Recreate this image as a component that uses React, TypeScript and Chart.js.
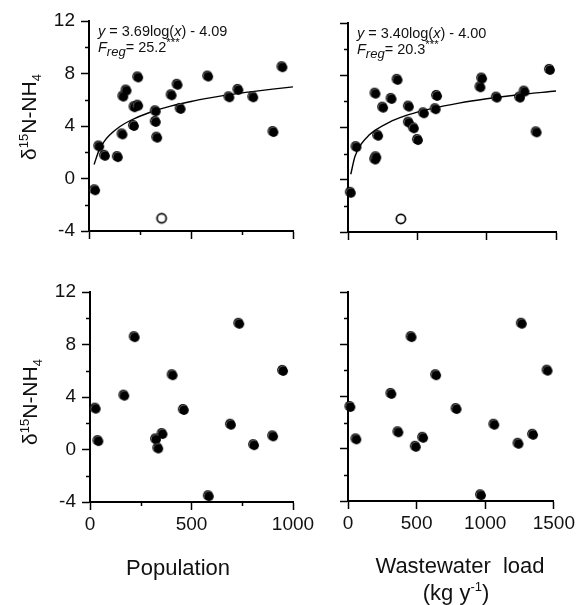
import React, { useEffect, useRef } from 'react';
import { Chart, registerables } from 'chart.js';
Chart.register(...registerables);

// ---------------- data ----------------
// top-left: population vs d15N-NH4 (filled), outlier (open), log fit
const popX = [30, 50, 78, 141, 164, 168, 184, 220, 223, 241, 241, 327, 327, 334, 405, 434, 449, 584, 688, 732, 805, 904, 948];
const popY = [-0.9, 2.44, 1.73, 1.63, 3.36, 6.24, 6.7, 4.0, 5.43, 5.55, 7.7, 5.12, 4.31, 3.11, 6.34, 7.14, 5.3, 7.77, 6.19, 6.75, 6.19, 3.54, 8.48];
const popOutX = [356];
const popOutY = [-3.03];
const popFitX = [25, 50, 75, 100, 150, 200, 300, 400, 500, 600, 700, 800, 900, 1000];
const popFitY = [1.07, 2.18, 2.83, 3.29, 3.94, 4.4, 5.05, 5.51, 5.87, 6.16, 6.41, 6.62, 6.81, 6.98];

// top-right: wastewater load vs d15N-NH4
const wwX = [20, 61, 196, 204, 198, 217, 253, 314, 357, 439, 439, 475, 504, 547, 632, 642, 955, 967, 1073, 1240, 1273, 1360, 1456];
const wwY = [-1.0, 2.5, 1.55, 1.72, 6.59, 3.37, 5.52, 6.19, 7.65, 5.6, 4.37, 3.94, 3.04, 5.09, 5.4, 6.42, 7.08, 7.75, 6.29, 6.29, 6.75, 3.63, 8.41];
const wwOutX = [381];
const wwOutY = [-3.0];
const wwFitX = [20, 50, 100, 150, 200, 300, 400, 500, 600, 800, 1000, 1200, 1500];
const wwFitY = [0.42, 1.78, 2.8, 3.4, 3.82, 4.42, 4.85, 5.18, 5.45, 5.87, 6.2, 6.47, 6.8];

// bottom-left: population (second set)
const pop2X = [28, 41, 169, 220, 325, 336, 357, 407, 462, 585, 694, 735, 808, 902, 951];
const pop2Y = [3.11, 0.64, 4.1, 8.56, 0.77, 0.08, 1.18, 5.66, 3.01, -3.56, 1.89, 9.58, 0.33, 1.0, 5.99];

// bottom-right: wastewater load (second set)
const ww2X = [17, 61, 316, 463, 367, 494, 547, 642, 791, 969, 1066, 1266, 1242, 1348, 1454];
const ww2Y = [3.2, 0.72, 4.2, 8.55, 1.26, 0.15, 0.84, 5.63, 3.04, -3.56, 1.84, 9.57, 0.38, 1.07, 5.98];

// ticks
const yTicks = [-4, 0, 4, 8, 12];
const yMinor = [-2, 2, 6, 10];
const popTicks = [0, 500, 1000];
const popMinor = [250, 750];
const wwTicks = [0, 500, 1000, 1500];
const wwMinor: number[] = [];

// texts
const eqPop = { a: '3.69', b: '4.09', f: '25.2' };
const eqWw = { a: '3.40', b: '4.00', f: '20.3' };
const xTitlePop = 'Population';
const xTitleWw1 = 'Wastewater  load';
const xTitleWw2 = '(kg y';

// ---------------- layout / style ----------------
const W = 578;
const H = 605;
const FONT = '"Liberation Sans", Arial, Helvetica, sans-serif';
const INK = '#111';
const AXW = 40; // fixed y-axis width
const AXH = 40; // fixed x-axis height

type Area = { left: number; top: number; right: number; bottom: number };

function makeDot(filled: boolean): HTMLCanvasElement {
  const c = document.createElement('canvas');
  c.width = 14;
  c.height = 14;
  const g = c.getContext('2d')!;
  if (filled) {
    g.fillStyle = '#000';
    g.beginPath();
    g.arc(6.2, 6.2, 5.1, 0, Math.PI * 2);
    g.fill();
    g.strokeStyle = 'rgba(235,235,235,0.9)';
    g.lineWidth = 0.7;
    g.beginPath();
    g.arc(7.2, 7.2, 5, Math.PI * 0.9, Math.PI * 1.6);
    g.stroke();
    g.fillStyle = '#000';
    g.beginPath();
    g.arc(7.2, 7.2, 4.7, 0, Math.PI * 2);
    g.fill();
  } else {
    g.fillStyle = '#fff';
    g.strokeStyle = '#000';
    g.lineWidth = 1.7;
    g.beginPath();
    g.arc(7, 7, 4.6, 0, Math.PI * 2);
    g.fill();
    g.stroke();
  }
  return c;
}

type Run = { t: string; font: string; dy?: number };
function drawRuns(ctx: CanvasRenderingContext2D, runs: Run[], x: number, y: number, center: boolean) {
  let total = 0;
  runs.forEach((r) => {
    ctx.font = r.font;
    total += ctx.measureText(r.t).width;
  });
  let cx = center ? x - total / 2 : x;
  runs.forEach((r) => {
    ctx.font = r.font;
    ctx.fillText(r.t, cx, y + (r.dy || 0));
    cx += ctx.measureText(r.t).width;
  });
}

const f = (size: number, italic = false) => `${italic ? 'italic ' : ''}${size}px ${FONT}`;

type PanelCfg = {
  area: Area;
  xMax: number;
  xTicks: number[];
  xMinor: number[];
  showX: boolean;
  showY: boolean;
  px: number[];
  py: number[];
  ox?: number[];
  oy?: number[];
  fx?: number[];
  fy?: number[];
  eq?: { a: string; b: string; f: string };
  yTitleDy?: number;
  xTitle?: 'pop' | 'ww';
};

const panels: PanelCfg[] = [
  { area: { left: 89, top: 21, right: 293, bottom: 231 }, xMax: 1000, xTicks: popTicks, xMinor: popMinor, showX: false, showY: true, px: popX, py: popY, ox: popOutX, oy: popOutY, fx: popFitX, fy: popFitY, eq: eqPop, yTitleDy: -9 },
  { area: { left: 348, top: 23, right: 556, bottom: 232 }, xMax: 1500, xTicks: wwTicks, xMinor: wwMinor, showX: false, showY: false, px: wwX, py: wwY, ox: wwOutX, oy: wwOutY, fx: wwFitX, fy: wwFitY, eq: eqWw },
  { area: { left: 90, top: 292, right: 293, bottom: 502 }, xMax: 1000, xTicks: popTicks, xMinor: popMinor, showX: true, showY: true, px: pop2X, py: pop2Y, yTitleDy: 5, xTitle: 'pop' },
  { area: { left: 348, top: 292, right: 556, bottom: 501 }, xMax: 1500, xTicks: wwTicks, xMinor: wwMinor, showX: true, showY: false, px: ww2X, py: ww2Y, xTitle: 'ww' },
];

function buildChart(canvas: HTMLCanvasElement, p: PanelCfg): Chart {
  const dot = makeDot(true);
  const ring = makeDot(false);
  const datasets: any[] = [
    {
      data: p.px.map((x, i) => ({ x, y: p.py[i] })),
      pointStyle: dot,
      pointRadius: 5,
      clip: false,
    },
  ];
  if (p.ox && p.oy) {
    datasets.push({
      data: p.ox.map((x, i) => ({ x, y: p.oy![i] })),
      pointStyle: ring,
      pointRadius: 5,
      clip: false,
    });
  }
  if (p.fx && p.fy) {
    datasets.push({
      data: p.fx.map((x, i) => ({ x, y: p.fy![i] })),
      showLine: true,
      borderColor: '#000',
      borderWidth: 1.4,
      pointRadius: 0,
      cubicInterpolationMode: 'monotone',
      fill: false,
    });
  }

  const gridOpts = {
    drawOnChartArea: false,
    drawTicks: true,
    tickLength: 8,
    tickColor: '#000',
    tickWidth: 1.5,
  };
  const borderOpts = { display: true, color: '#000', width: 2 };

  const decor = {
    id: 'decor',
    afterDraw(chart: any) {
      const ctx: CanvasRenderingContext2D = chart.ctx;
      const a = chart.chartArea;
      const xs = chart.scales.x;
      const ys = chart.scales.y;
      ctx.save();
      // minor ticks
      ctx.strokeStyle = '#000';
      ctx.lineWidth = 1.5;
      yMinor.forEach((v) => {
        const y = Math.round(ys.getPixelForValue(v)) + 0.5;
        ctx.beginPath();
        ctx.moveTo(a.left - 4, y);
        ctx.lineTo(a.left, y);
        ctx.stroke();
      });
      p.xMinor.forEach((v) => {
        const x = Math.round(xs.getPixelForValue(v)) + 0.5;
        ctx.beginPath();
        ctx.moveTo(x, a.bottom);
        ctx.lineTo(x, a.bottom + 4);
        ctx.stroke();
      });
      ctx.fillStyle = INK;
      ctx.textBaseline = 'alphabetic';
      ctx.textAlign = 'left';
      // equation
      if (p.eq) {
        const ex = a.left + 9;
        const ey = a.top + 15;
        drawRuns(ctx, [
          { t: 'y', font: f(14.5, true) },
          { t: ' = ' + p.eq.a + 'log(', font: f(14.5) },
          { t: 'x', font: f(14.5, true) },
          { t: ') - ' + p.eq.b, font: f(14.5) },
        ], ex, ey, false);
        drawRuns(ctx, [
          { t: 'F', font: f(14.5, true) },
          { t: 'reg', font: f(13, true), dy: 4 },
          { t: '= ' + p.eq.f, font: f(14.5) },
          { t: '***', font: f(11.5), dy: -6 },
        ], ex, ey + 16, false);
      }
      // y title
      if (p.showY) {
        const cx = a.left - 53;
        const cy = (a.top + a.bottom) / 2 + (p.yTitleDy || 0);
        ctx.save();
        ctx.translate(cx, cy);
        ctx.rotate(-Math.PI / 2);
        drawRuns(ctx, [
          { t: 'δ', font: f(21) },
          { t: '15', font: f(13), dy: -8 },
          { t: 'N-NH', font: f(21) },
          { t: '4', font: f(13), dy: 5 },
        ], 0, 0, true);
        ctx.restore();
      }
      // x title
      if (p.xTitle === 'pop') {
        drawRuns(ctx, [{ t: xTitlePop, font: f(22) }], a.left + 88, a.bottom + 73, true);
      } else if (p.xTitle === 'ww') {
        drawRuns(ctx, [{ t: xTitleWw1, font: f(22) }], a.left + 112, a.bottom + 72, true);
        drawRuns(ctx, [
          { t: xTitleWw2, font: f(22) },
          { t: '-1', font: f(13), dy: -9 },
          { t: ')', font: f(22) },
        ], a.left + 108, a.bottom + 99, true);
      }
      ctx.restore();
    },
  };

  return new Chart(canvas, {
    type: 'scatter',
    data: { datasets },
    plugins: [decor],
    options: {
      animation: false,
      responsive: false,
      devicePixelRatio: 1,
      events: [],
      layout: {
        padding: {
          left: p.area.left - AXW,
          top: p.area.top,
          right: W - p.area.right,
          bottom: H - p.area.bottom - AXH,
        },
      },
      plugins: { legend: { display: false }, tooltip: { enabled: false }, title: { display: false } },
      scales: {
        x: {
          type: 'linear',
          min: 0,
          max: p.xMax,
          afterBuildTicks: (s: any) => {
            s.ticks = p.xTicks.map((v) => ({ value: v }));
          },
          afterFit: (s: any) => {
            s.height = AXH;
          },
          ticks: {
            display: p.showX,
            font: { family: FONT, size: 19 },
            color: INK,
            padding: 3,
            maxRotation: 0,
            autoSkip: false,
            callback: (v: number) => String(v),
          },
          grid: gridOpts,
          border: borderOpts,
        },
        y: {
          type: 'linear',
          min: -4,
          max: 12,
          afterBuildTicks: (s: any) => {
            s.ticks = yTicks.map((v) => ({ value: v }));
          },
          afterFit: (s: any) => {
            s.width = AXW;
          },
          ticks: {
            display: p.showY,
            font: { family: FONT, size: 19 },
            color: INK,
            padding: 6,
            autoSkip: false,
            callback: (v: number) => String(v),
          },
          grid: gridOpts,
          border: borderOpts,
        },
      },
    } as any,
  });
}

export default function App() {
  const refs = [useRef<HTMLCanvasElement>(null), useRef<HTMLCanvasElement>(null), useRef<HTMLCanvasElement>(null), useRef<HTMLCanvasElement>(null)];
  useEffect(() => {
    const charts = panels.map((p, i) => buildChart(refs[i].current!, p));
    return () => charts.forEach((c) => c.destroy());
  }, []);
  return (
    <div style={{ position: 'absolute', left: 0, top: 0, width: W, height: H, background: '#fff' }}>
      {refs.map((r, i) => (
        <canvas
          key={i}
          ref={r}
          width={W}
          height={H}
          style={{ position: 'absolute', left: 0, top: 0, width: W, height: H }}
        />
      ))}
    </div>
  );
}
